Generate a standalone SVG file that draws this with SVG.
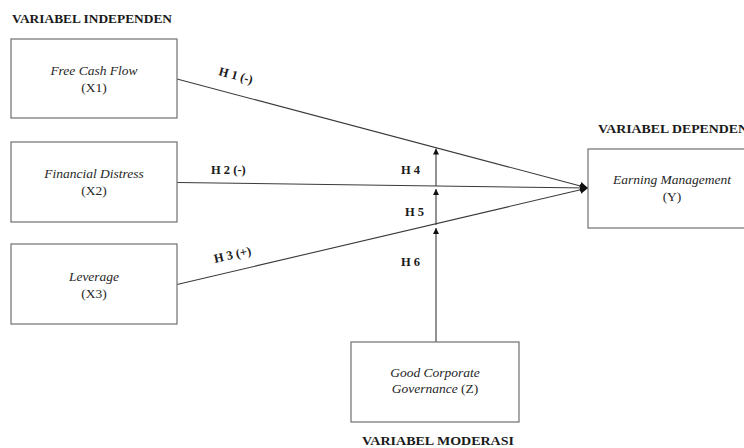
<svg xmlns="http://www.w3.org/2000/svg" width="744" height="448" viewBox="0 0 744 448">
<style>
.box{fill:#fff;stroke:#7a7a7a;stroke-width:1.3}
.lbl{font-family:"Liberation Serif",serif;font-size:13.5px;fill:#262626;text-anchor:middle}
.it{font-style:italic}
.ttl{font-family:"Liberation Serif",serif;font-size:12.5px;font-weight:bold;fill:#1a1a1a}
.h{font-family:"Liberation Serif",serif;font-size:12.5px;font-weight:bold;fill:#1a1a1a}
.ln{stroke:#3a3a3a;stroke-width:1.1;fill:none}
</style>
<defs>
<marker id="ah" viewBox="0 0 10 10" refX="10" refY="5" markerWidth="8" markerHeight="8" markerUnits="userSpaceOnUse" orient="auto">
<path d="M0,0 L10,5 L0,10 z" fill="#111"/>
</marker>
<marker id="av" viewBox="0 0 10 10" refX="10" refY="5" markerWidth="7" markerHeight="6" markerUnits="userSpaceOnUse" orient="auto">
<path d="M0,0 L10,5 L0,10 z" fill="#111"/>
</marker>
</defs>
<rect width="744" height="448" fill="#fff"/>
<text class="ttl" x="12" y="23" textLength="160" lengthAdjust="spacingAndGlyphs">VARIABEL INDEPENDEN</text>
<text class="ttl" x="598" y="133" textLength="150" lengthAdjust="spacingAndGlyphs">VARIABEL DEPENDEN</text>
<text class="ttl" x="362" y="445" textLength="152" lengthAdjust="spacingAndGlyphs">VARIABEL MODERASI</text>
<g id="connectors">
<line class="ln" x1="177" y1="79" x2="588" y2="188" marker-end="url(#ah)"/>
<line class="ln" x1="177" y1="182.5" x2="588" y2="188" marker-end="url(#ah)"/>
<line class="ln" x1="177" y1="284.5" x2="588" y2="188" marker-end="url(#ah)"/>
<line class="ln" x1="436" y1="342" x2="436" y2="228" marker-end="url(#av)"/>
<line class="ln" x1="436" y1="225" x2="436" y2="189" marker-end="url(#av)"/>
<line class="ln" x1="436" y1="186" x2="436" y2="148.5" marker-end="url(#av)"/>
<text class="h" transform="translate(218,75) rotate(15)">H 1 (-)</text>
<text class="h" x="211" y="174">H 2 (-)</text>
<text class="h" transform="translate(215,263) rotate(-13)">H 3 (+)</text>
<text class="h" x="401" y="174">H 4</text>
<text class="h" x="405" y="216">H 5</text>
<text class="h" x="401" y="266">H 6</text>
</g>
<g id="x1">
<rect class="box" x="11" y="39" width="166" height="79"/>
<text class="lbl it" x="94" y="75">Free Cash Flow</text>
<text class="lbl" x="94" y="92">(X1)</text>
</g>
<g id="x2">
<rect class="box" x="11" y="142" width="166" height="80"/>
<text class="lbl it" x="94" y="178">Financial Distress</text>
<text class="lbl" x="94" y="195">(X2)</text>
</g>
<g id="x3">
<rect class="box" x="11" y="244" width="166" height="80"/>
<text class="lbl it" x="94" y="281">Leverage</text>
<text class="lbl" x="94" y="298">(X3)</text>
</g>
<g id="y">
<rect class="box" x="588" y="149" width="168" height="79"/>
<text class="lbl it" x="672" y="184">Earning Management</text>
<text class="lbl" x="672" y="201">(Y)</text>
</g>
<g id="z">
<rect class="box" x="351" y="342" width="168" height="80"/>
<text class="lbl it" x="435" y="377">Good Corporate</text>
<text class="lbl" x="435" y="393"><tspan font-style="italic">Governance</tspan> (Z)</text>
</g>
</svg>
